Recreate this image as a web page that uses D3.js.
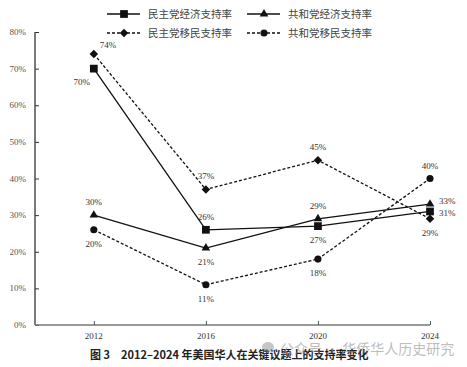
<!DOCTYPE html>
<html><head><meta charset="utf-8">
<script src="https://cdn.jsdelivr.net/npm/d3@7"></script>
<style>body{margin:0;background:#fff}svg{display:block}</style>
</head><body>
<script>
const years = [2012, 2016, 2020, 2024];
const demEcon = [70, 26, 27, 31];
const repEcon = [30, 21, 29, 33];
const demImm = [74, 37, 45, 29];
const repImm = [26, 11, 18, 40];
const demEconLabels = ["70%", "26%", "27%", "31%"];
const repEconLabels = ["30%", "21%", "29%", "33%"];
const demImmLabels = ["74%", "37%", "45%", "29%"];
const repImmLabels = ["20%", "11%", "18%", "40%"];
const seriesNames = ["民主党经济支持率", "共和党经济支持率", "民主党移民支持率", "共和党移民支持率"];
const yTicks = [0, 10, 20, 30, 40, 50, 60, 70, 80];
const caption = "图 3　2012–2024 年美国华人在关键议题上的支持率变化";
const watermark = "公众号 · 华侨华人历史研究";

const W = 467, H = 367;
const svg = d3.select("body").append("svg").attr("width", W).attr("height", H);
const x = d3.scaleLinear().domain([2009.9, 2024]).range([35, 430]);
const y = d3.scaleLinear().domain([0, 80]).range([325, 32]);
const serif = "'Liberation Serif','Times New Roman',serif";
const cjk = "'Noto Sans CJK SC',sans-serif";

// axes
const yAxis = svg.append("g").attr("transform", "translate(35,0)")
  .call(d3.axisRight(y).tickValues(yTicks).tickSize(4).tickFormat(""));
yAxis.select(".domain").attr("stroke", "#333").attr("stroke-width", 1.3).attr("d", `M0,${y(80)}V${y(0)}`);
yAxis.selectAll(".tick line").attr("stroke", "#333");
svg.append("g").selectAll("text").data(yTicks).join("text")
  .attr("x", 26).attr("y", d => y(d) + 3).attr("text-anchor", "end")
  .attr("font-family", serif).attr("font-size", 9).attr("fill", "#555")
  .text(d => d + "%");

const xAxis = svg.append("g").attr("transform", `translate(0,${y(0)})`)
  .call(d3.axisTop(x).tickValues(years).tickSize(4).tickFormat(""));
xAxis.select(".domain").attr("stroke", "#777").attr("stroke-width", 1.6).attr("d", `M${x.range()[0]},0H${x(2024)}`);
xAxis.selectAll(".tick line").attr("stroke", "#555");
svg.append("g").selectAll("text").data(years).join("text")
  .attr("x", d => x(d)).attr("y", 339).attr("text-anchor", "middle")
  .attr("font-family", serif).attr("font-size", 9).attr("fill", "#333")
  .text(d => d);

const sym = {
  square: {gen: d3.symbol().type(d3.symbolSquare).size(60), rot: 0},
  triangle: {gen: d3.symbol().type(d3.symbolTriangle).size(32), rot: 0},
  diamond: {gen: d3.symbol().type(d3.symbolSquare).size(36), rot: 45},
  circle: {gen: d3.symbol().type(d3.symbolCircle).size(40), rot: 0}
};

const series = [
  {vals: demEcon, labels: demEconLabels, marker: "square", dash: null, pos: ["bl", "a", "b", "rd"]},
  {vals: repEcon, labels: repEconLabels, marker: "triangle", dash: null, pos: ["a", "b", "a", "ru"]},
  {vals: demImm, labels: demImmLabels, marker: "diamond", dash: "3,2", pos: ["ar", "a", "a", "b"]},
  {vals: repImm, labels: repImmLabels, marker: "circle", dash: "3,2", pos: ["b", "b", "b", "a"]}
];
const off = {a: [0, -10, "middle"], b: [0, 17, "middle"], ru: [9, 0, "start"], rd: [9, 5, "start"],
  bl: [-12, 16, "middle"], ar: [6, -6, "start"]};

const line = d3.line().x(d => x(d[0])).y(d => y(d[1]));
series.forEach(s => {
  const pts = years.map((yr, i) => [yr, s.vals[i]]);
  svg.append("path").datum(pts).attr("d", line).attr("fill", "none")
    .attr("stroke", "#111").attr("stroke-width", 1.3)
    .attr("stroke-dasharray", s.dash);
  svg.append("g").selectAll("path").data(pts).join("path")
    .attr("d", sym[s.marker].gen).attr("fill", "#111")
    .attr("transform", d => `translate(${x(d[0])},${y(d[1])}) rotate(${sym[s.marker].rot})`);
  svg.append("g").selectAll("text").data(pts).join("text")
    .attr("x", (d, i) => x(d[0]) + off[s.pos[i]][0])
    .attr("y", (d, i) => y(d[1]) + off[s.pos[i]][1])
    .attr("text-anchor", (d, i) => off[s.pos[i]][2])
    .attr("font-family", serif).attr("font-size", 9).attr("fill", "#333")
    .text((d, i) => s.labels[i]);
});

// legend
const legX = [107, 247], legY = [14, 33];
series.forEach((s, i) => {
  const lx = legX[i % 2], ly = legY[Math.floor(i / 2)];
  const g = svg.append("g");
  g.append("line").attr("x1", lx).attr("x2", lx + 33).attr("y1", ly).attr("y2", ly)
    .attr("stroke", "#111").attr("stroke-width", 1.3).attr("stroke-dasharray", s.dash);
  g.append("path").attr("d", sym[s.marker].gen).attr("fill", "#111")
    .attr("transform", `translate(${lx + 17},${ly}) rotate(${sym[s.marker].rot})`);
  g.append("text").attr("x", lx + 41).attr("y", ly + 4)
    .attr("font-family", cjk).attr("font-size", 10.5).attr("fill", "#444")
    .text(seriesNames[i]);
});

// caption & watermark
svg.append("text").attr("x", 90).attr("y", 359)
  .attr("font-family", cjk).attr("font-size", 11).attr("font-weight", "bold").attr("fill", "#222")
  .text(caption);
const wm = svg.append("g").attr("opacity", 0.55);
wm.append("ellipse").attr("cx", 268).attr("cy", 347).attr("rx", 6).attr("ry", 5).attr("fill", "#999");
wm.append("text").attr("x", 280).attr("y", 354)
  .attr("font-family", cjk).attr("font-size", 14).attr("fill", "#888")
  .text(watermark);
</script>
</body></html>
